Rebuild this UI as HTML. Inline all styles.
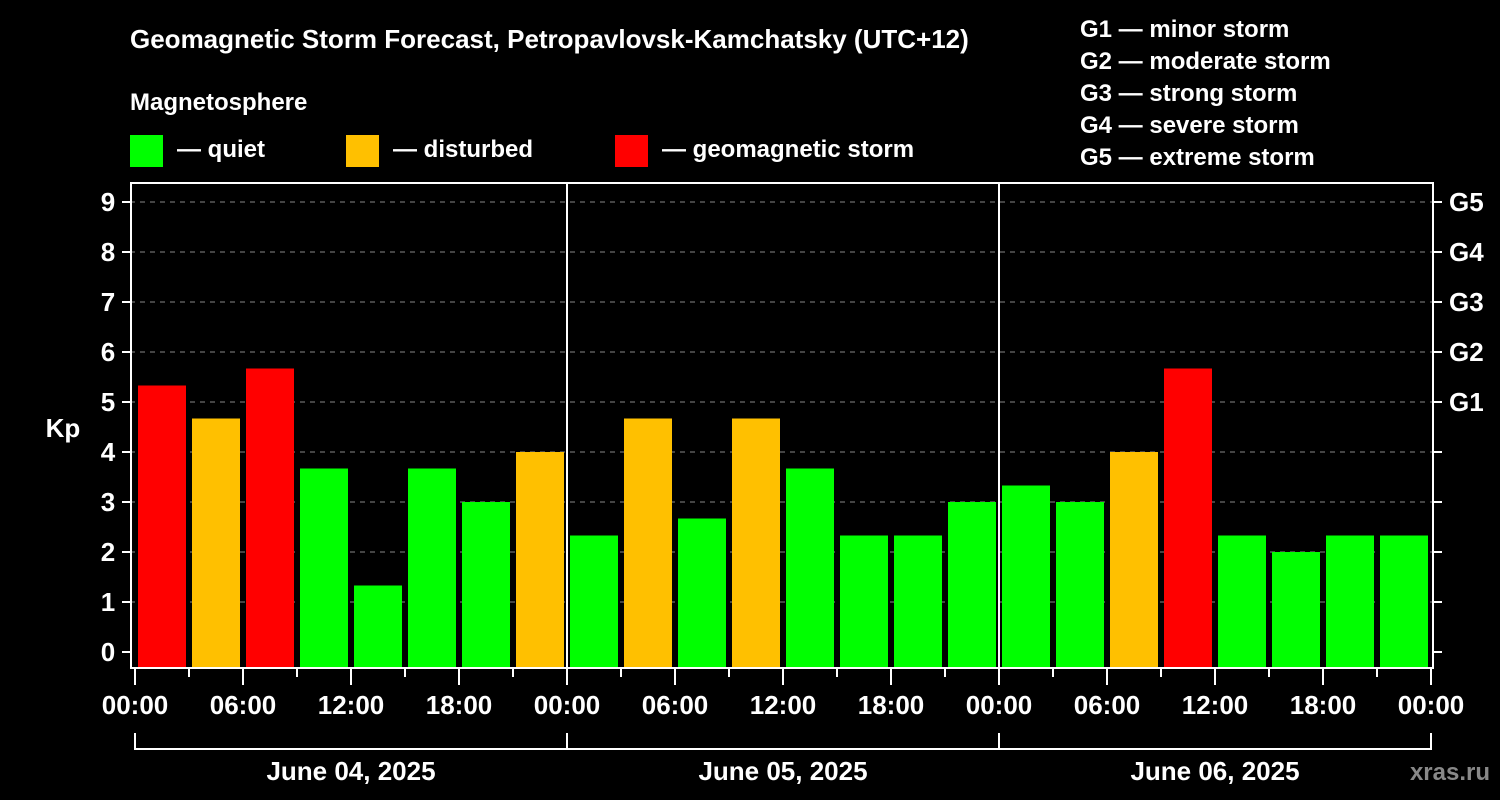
<!DOCTYPE html>
<html><head><meta charset="utf-8"><style>
html,body{margin:0;padding:0;background:#000;}
svg{display:block;font-family:"Liberation Sans",Arial,sans-serif;font-weight:bold;}
</style></head><body>
<svg id="chart" width="1500" height="800" viewBox="0 0 1500 800">
<rect width="1500" height="800" fill="#000"/>
<text x="130" y="48" fill="#fff" font-size="26">Geomagnetic Storm Forecast, Petropavlovsk-Kamchatsky (UTC+12)</text>
<text x="130" y="110" fill="#fff" font-size="24">Magnetosphere</text>
<g><rect x="130" y="135" width="33" height="32" fill="#00ff00"/><text x="177" y="157" fill="#fff" font-size="24">— quiet</text></g>
<g><rect x="346" y="135" width="33" height="32" fill="#ffc000"/><text x="393" y="157" fill="#fff" font-size="24">— disturbed</text></g>
<g><rect x="615" y="135" width="33" height="32" fill="#ff0000"/><text x="662" y="157" fill="#fff" font-size="24">— geomagnetic storm</text></g>
<g fill="#fff" font-size="24">
<text x="1080" y="37">G1 — minor storm</text>
<text x="1080" y="69">G2 — moderate storm</text>
<text x="1080" y="101">G3 — strong storm</text>
<text x="1080" y="133">G4 — severe storm</text>
<text x="1080" y="165">G5 — extreme storm</text>
</g>
<text x="63" y="437" fill="#fff" font-size="26" text-anchor="middle">Kp</text>
<g id="grid"></g><g id="bars"></g><g id="axes"></g>
<text x="1490" y="780" fill="#888" font-size="24" text-anchor="end">xras.ru</text>
</svg>
<script>
const days = ["June 04, 2025","June 05, 2025","June 06, 2025"];
const kpValues = [5.33,4.67,5.67,3.67,1.33,3.67,3.0,4.0, 2.33,4.67,2.67,4.67,3.67,2.33,2.33,3.0, 3.33,3.0,4.0,5.67,2.33,2.0,2.33,2.33];
const yTicks = [0,1,2,3,4,5,6,7,8,9];
const gLabels = {5:"G1",6:"G2",7:"G3",8:"G4",9:"G5"};
const hourLabels = ["00:00","06:00","12:00","18:00"];
const NS="http://www.w3.org/2000/svg";
const X0=135, DAYW=432, L=130, R=1433, T=183, B=668;
const y = k => 652 - 50*k;
const x = i => X0 + i*DAYW/8;
function mk(tag, attrs, parent, txt){const e=document.createElementNS(NS,tag);for(const k in attrs)e.setAttribute(k,attrs[k]);if(txt!==undefined)e.textContent=txt;parent.appendChild(e);return e;}
const grid=document.getElementById('grid'), bars=document.getElementById('bars'), axes=document.getElementById('axes');
yTicks.forEach(k=>{
  if(k>0){const g=mk('line',{x1:L,x2:R,y1:y(k),y2:y(k),stroke:'#888','stroke-dasharray':'5,5','stroke-width':1},grid);
  
  }
  mk('line',{x1:122,x2:L,y1:y(k),y2:y(k),stroke:'#fff','stroke-width':2},axes);
  mk('line',{x1:R,x2:1442,y1:y(k),y2:y(k),stroke:'#fff','stroke-width':2},axes);
  const t=mk('text',{x:108,y:y(k)+9,fill:'#fff','font-size':26,'text-anchor':'middle'},axes,String(k));
  
  
  if(gLabels[k]){const gt=mk('text',{x:1449,y:y(k)+9,fill:'#fff','font-size':26},axes,gLabels[k]);
  
  }
});
kpValues.forEach((v,i)=>{
  const c = v>=5?'#ff0000':(v>=4?'#ffc000':'#00ff00');
  const r=mk('rect',{x:x(i)+3,y:y(v),width:48,height:B-y(v),fill:c},bars);
  
  
});
mk('rect',{x:L+1,y:T,width:R-L-1,height:B-T,fill:'none',stroke:'#fff','stroke-width':2},axes);
for(let d=1;d<days.length;d++) mk('line',{x1:X0+d*DAYW,x2:X0+d*DAYW,y1:T,y2:B,stroke:'#fff','stroke-width':2},axes);
for(let i=0;i<=days.length*8;i++){
  const maj=i%2===0;
  mk('line',{x1:x(i),x2:x(i),y1:B,y2:B+(maj?17:9),stroke:'#fff','stroke-width':2},axes);
  if(maj){const t=mk('text',{x:x(i),y:714,fill:'#fff','font-size':26,'text-anchor':'middle'},axes,hourLabels[(i/2)%4]);
  
  }
}
days.forEach((d,j)=>{
  const a=X0+j*DAYW,b=a+DAYW;
  mk('path',{d:`M${a},733V749H${b}V733`,stroke:'#fff','stroke-width':2,fill:'none'},axes);
  const t=mk('text',{x:(a+b)/2,y:780,fill:'#fff','font-size':26,'text-anchor':'middle'},axes,d);
  
  
});
</script>
</body></html>
